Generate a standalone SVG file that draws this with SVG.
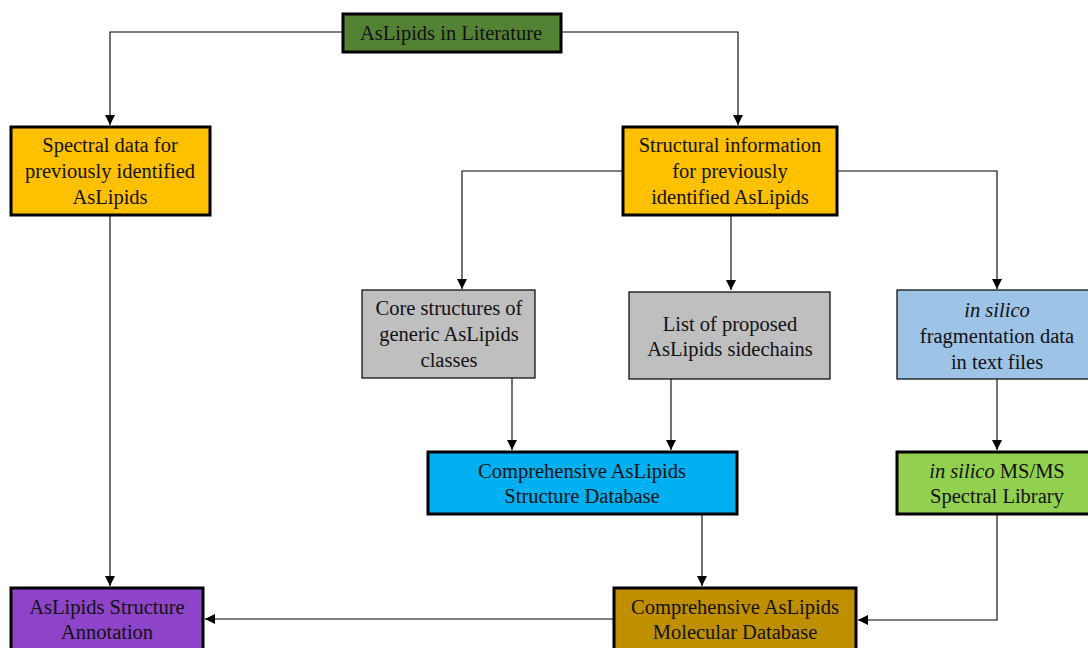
<svg xmlns="http://www.w3.org/2000/svg" width="1088" height="648" viewBox="0 0 1088 648">
  <style>
    .box { stroke: #000; }
    .thick { stroke-width: 3; }
    .thin { stroke-width: 1.2; }
    .lbl { font-family: "Liberation Serif", "Times New Roman", serif; font-size: 20.5px; fill: #111; text-anchor: middle; }
    .it { font-style: italic; }
    .conn { fill: none; stroke: #000; stroke-width: 1.1; marker-end: url(#arrow); }
  </style>
  <defs>
    <marker id="arrow" viewBox="0 0 10 10" refX="10" refY="5" markerWidth="10" markerHeight="10" markerUnits="userSpaceOnUse" orient="auto">
      <path d="M0,0 L10,5 L0,10 Z" fill="#000"/>
    </marker>
  </defs>
  <rect width="1088" height="648" fill="#fff"/>

  <g id="connectors">
    <path class="conn" d="M342,32 H110 V125"/>
    <path class="conn" d="M562,32 H738 V125"/>
    <path class="conn" d="M622,171 H462 V289"/>
    <path class="conn" d="M731,215 V290"/>
    <path class="conn" d="M837,171 H997 V289"/>
    <path class="conn" d="M512,378 V450"/>
    <path class="conn" d="M671,379 V450"/>
    <path class="conn" d="M997,379 V450"/>
    <path class="conn" d="M110,215 V586"/>
    <path class="conn" d="M702,514 V586"/>
    <path class="conn" d="M997,514 V620 H858"/>
    <path class="conn" d="M613,619 H205"/>
  </g>

  <g id="literature">
    <rect class="box thick" x="343" y="14" width="218" height="38" fill="#548235"/>
    <text class="lbl" x="451" y="40">AsLipids in Literature</text>
  </g>

  <g id="spectral-data">
    <rect class="box thick" x="11" y="127" width="199" height="88" fill="#FFC000"/>
    <text class="lbl" x="110" y="152">Spectral data for</text>
    <text class="lbl" x="110" y="178">previously identified</text>
    <text class="lbl" x="110" y="204">AsLipids</text>
  </g>

  <g id="structural-info">
    <rect class="box thick" x="623" y="127" width="214" height="88" fill="#FFC000"/>
    <text class="lbl" x="730" y="152">Structural information</text>
    <text class="lbl" x="730" y="178">for previously</text>
    <text class="lbl" x="730" y="204">identified  AsLipids</text>
  </g>

  <g id="core-structures">
    <rect class="box thin" x="362" y="290" width="173" height="88" fill="#BFBFBF"/>
    <text class="lbl" x="449" y="315">Core structures of</text>
    <text class="lbl" x="449" y="341">generic  AsLipids</text>
    <text class="lbl" x="449" y="367">classes</text>
  </g>

  <g id="sidechains">
    <rect class="box thin" x="629" y="292" width="201" height="87" fill="#BFBFBF"/>
    <text class="lbl" x="730" y="331">List of proposed</text>
    <text class="lbl" x="730" y="356">AsLipids sidechains</text>
  </g>

  <g id="fragmentation">
    <rect class="box thin" x="897" y="290" width="195" height="89" fill="#9DC3E6"/>
    <text class="lbl it" x="997" y="317">in silico</text>
    <text class="lbl" x="997" y="343">fragmentation  data</text>
    <text class="lbl" x="997" y="369">in text files</text>
  </g>

  <g id="structure-db">
    <rect class="box thick" x="428" y="452" width="309" height="62" fill="#00B0F0"/>
    <text class="lbl" x="582" y="478">Comprehensive AsLipids</text>
    <text class="lbl" x="582" y="503">Structure Database</text>
  </g>

  <g id="msms-library">
    <rect class="box thick" x="897" y="452" width="195" height="62" fill="#92D050"/>
    <text class="lbl" x="997" y="478"><tspan class="it">in silico</tspan> MS/MS</text>
    <text class="lbl" x="997" y="503">Spectral Library</text>
  </g>

  <g id="annotation">
    <rect class="box thick" x="11" y="588" width="192" height="70" fill="#8E44C8"/>
    <text class="lbl" x="107" y="614">AsLipids Structure</text>
    <text class="lbl" x="107" y="639">Annotation</text>
  </g>

  <g id="molecular-db">
    <rect class="box thick" x="614" y="588" width="242" height="70" fill="#BF8F00"/>
    <text class="lbl" x="735" y="614">Comprehensive AsLipids</text>
    <text class="lbl" x="735" y="639">Molecular Database</text>
  </g>
</svg>
